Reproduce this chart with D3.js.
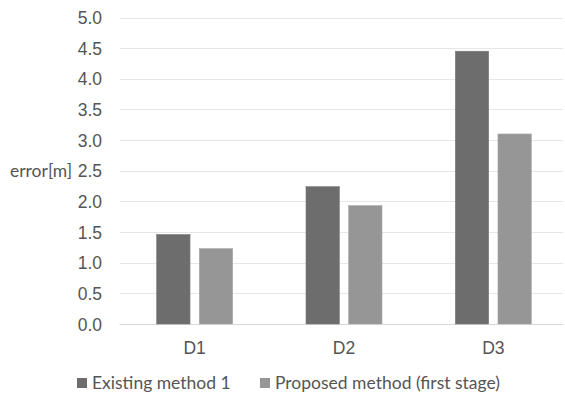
<!DOCTYPE html>
<html>
<head>
<meta charset="utf-8">
<script src="https://cdn.jsdelivr.net/npm/d3@7"></script>
<style>
  html, body { margin: 0; padding: 0; background: #fff; }
  svg { display: block; font-family: Lato, "Open Sans", sans-serif; }
</style>
</head>
<body>
<svg id="chart" width="565" height="397"></svg>
<script>
// Error per dataset for each method
const categories = ["D1", "D2", "D3"];
const seriesNames = ["Existing method 1", "Proposed method (first stage)"];
const existingMethod1 = [1.46, 2.24, 4.45];
const proposedFirstStage = [1.23, 1.93, 3.10];
const yTicks = [0, 0.5, 1, 1.5, 2, 2.5, 3, 3.5, 4, 4.5, 5];
const yLabel = "error[m]";

const seriesValues = [existingMethod1, proposedFirstStage];
const colors = ["#6d6d6d", "#969696"];
const textColor = "#555555";
const fontSize = "17.5px";

const svg = d3.select("#chart");

const plotLeft = 120, plotRight = 563;
const y = d3.scaleLinear().domain([0, 5]).range([324, 17.5]);
const x = d3.scaleBand().domain(categories).range([120, 568]).paddingInner(0).paddingOuter(0);
const sub = d3.scaleBand().domain(d3.range(seriesNames.length)).range([-38, 38]).paddingInner(0.218);

// Horizontal gridlines
svg.append("g")
  .selectAll("line")
  .data(yTicks)
  .join("line")
  .attr("x1", plotLeft - 0.5)
  .attr("x2", plotRight)
  .attr("y1", d => Math.round(y(d)) + 0.5)
  .attr("y2", d => Math.round(y(d)) + 0.5)
  .attr("stroke", d => d === 0 ? "#d9d9d9" : "#e6e6e6")
  .attr("stroke-width", 1);

// Y axis tick labels
const yAxis = d3.axisLeft(y).tickValues(yTicks).tickFormat(d3.format(".1f")).tickSize(0).tickPadding(0);
const yg = svg.append("g").attr("transform", "translate(102,0)").call(yAxis);
yg.select(".domain").remove();
yg.selectAll("text")
  .attr("fill", textColor)
  .style("font-size", fontSize)
  .attr("dy", "0.35em");

// Y axis title, on the 2.5 line
svg.append("text")
  .attr("x", 72)
  .attr("y", y(2.5))
  .attr("dy", "0.35em")
  .attr("text-anchor", "end")
  .attr("fill", textColor)
  .style("font-size", fontSize)
  .text(yLabel);

// Bars
const groups = svg.append("g")
  .selectAll("g")
  .data(categories)
  .join("g")
  .attr("transform", d => `translate(${x(d) + x.bandwidth() / 2},0)`);

groups.selectAll("rect")
  .data((c, ci) => seriesValues.map((vals, si) => ({ si, v: vals[ci] })))
  .join("rect")
  .attr("x", d => sub(d.si))
  .attr("width", sub.bandwidth())
  .attr("y", d => y(d.v))
  .attr("height", d => y(0) - y(d.v))
  .attr("fill", d => colors[d.si])
  .attr("stroke", d => d3.color(colors[d.si]).brighter(0.3))
  .attr("stroke-width", 0.6);

// Category labels
const xAxis = d3.axisBottom(x).tickSize(0).tickPadding(0);
const xg = svg.append("g").attr("transform", "translate(0,348)").call(xAxis);
xg.select(".domain").remove();
xg.selectAll("text")
  .attr("fill", textColor)
  .attr("dy", "0.35em")
  .style("font-size", fontSize);

// Legend
const legendX = [77, 260];
const legend = svg.append("g")
  .selectAll("g")
  .data(seriesNames)
  .join("g")
  .attr("transform", (d, i) => `translate(${legendX[i]},383)`);
legend.append("rect")
  .attr("x", 0).attr("y", -5)
  .attr("width", 10).attr("height", 10)
  .attr("fill", (d, i) => colors[i]);
legend.append("text")
  .attr("x", 15)
  .attr("dy", "0.35em")
  .attr("fill", textColor)
  .style("font-size", fontSize)
  .text(d => d);
</script>
</body>
</html>
